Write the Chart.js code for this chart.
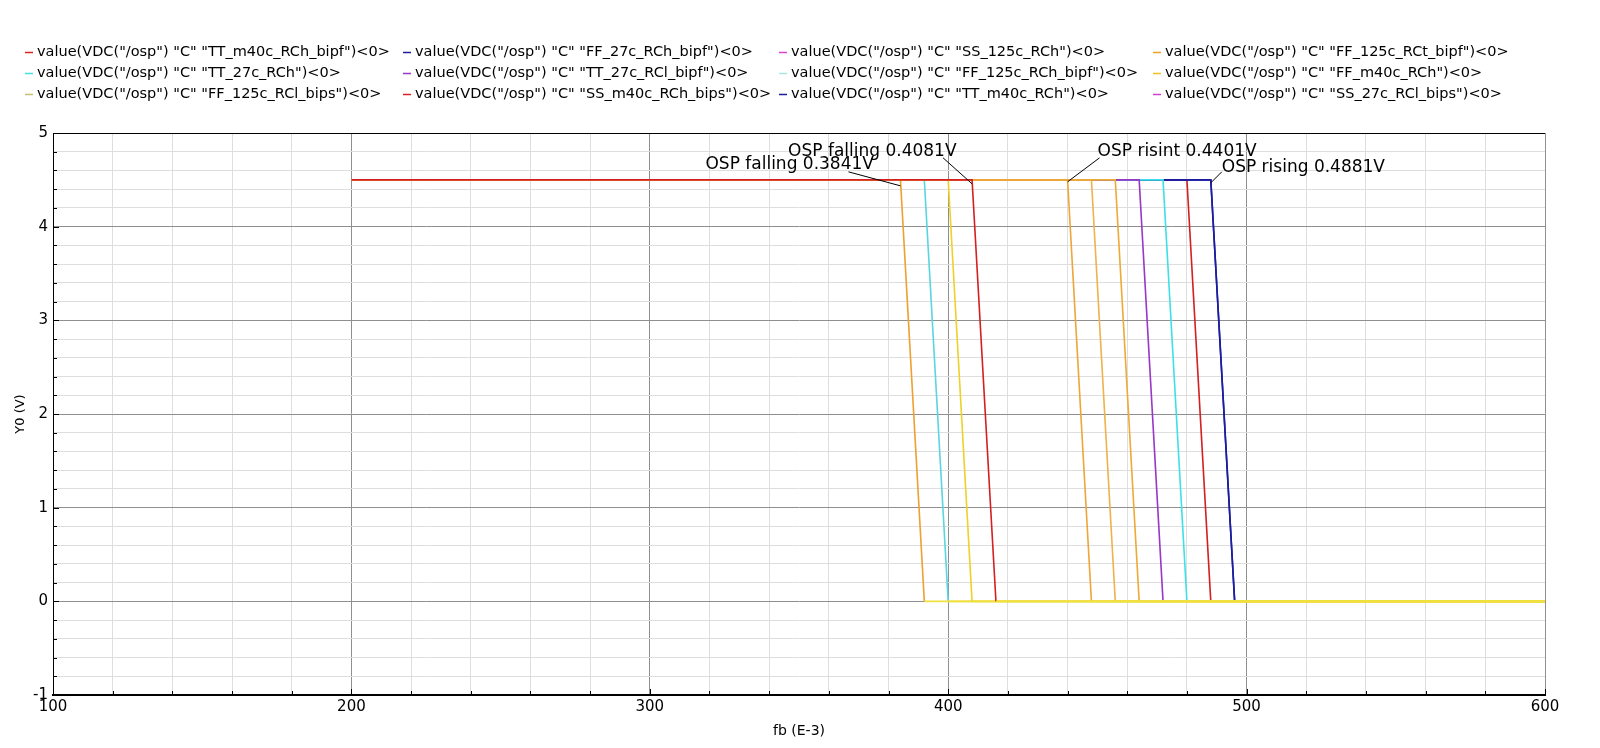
<!DOCTYPE html>
<html>
<head>
<meta charset="utf-8">
<script src="https://cdn.jsdelivr.net/npm/chart.js@4.4.0/dist/chart.umd.min.js"></script>
<style>
  html, body { margin: 0; padding: 0; background: #fff; }
  #wrap { width: 1600px; height: 748px; }
</style>
</head>
<body>
<div id="wrap"><canvas id="c" width="1600" height="748"></canvas></div>
<script>
// corner names, legend order (4 columns, row by row)
var corners = [
  'TT_m40c_RCh_bipf', 'FF_27c_RCh_bipf', 'SS_125c_RCh', 'FF_125c_RCt_bipf',
  'TT_27c_RCh', 'TT_27c_RCl_bipf', 'FF_125c_RCh_bipf', 'FF_m40c_RCh',
  'FF_125c_RCl_bips', 'SS_m40c_RCh_bips', 'TT_m40c_RCh', 'SS_27c_RCl_bips'
];
// fb (E-3) where each trace leaves the high level and where it reaches 0
var fallStart = [408, 488, 440, 384, 472, 464, 392, 400, 456, 480, 488, 448];
var fallEnd   = [416, 496, 448, 392, 480, 472, 400, 408, 464, 488, 496, 456];
var sweepFrom = 200, sweepTo = 600;
var highLevel = 4.5, lowLevel = 0;

var markers = [
  { text: 'OSP falling 0.3841V', x: 384, y: 4.5 },
  { text: 'OSP falling 0.4081V', x: 408, y: 4.5 },
  { text: 'OSP risint 0.4401V',  x: 440, y: 4.5 },
  { text: 'OSP rising 0.4881V',  x: 488, y: 4.5 }
];

// styling
var traceColors  = ['#d42020', '#1c1ca0', '#eea53a', '#eea030', '#3ee0e8', '#9838c8',
                    '#5ad6e0', '#ecd22a', '#eeaa36', '#d42020', '#1c1ca0', '#f0b24a'];
var legendColors = ['#e02020', '#1c1ca0', '#e040d0', '#f0a020', '#40e0e8', '#9838c8',
                    '#a8e8e0', '#f0c020', '#c8c070', '#e02020', '#1c1ca0', '#d040d0'];
var drawOrder    = [0, 5, 2, 7, 4, 3, 7, 1, 2, 6, 5, 2];
var lowColor = '#f0e040';
var labelOffsets = [
  { tx: -195, ty: -15, lx: -52, ly: -8, ex: 0, ey: 6 },
  { tx: -184, ty: -28, lx: -29, ly: -22, ex: 0, ey: 4 },
  { tx: 30,   ty: -28, lx: 32,  ly: -22, ex: 0, ey: 2 },
  { tx: 11,   ty: -12, lx: 11,  ly: -8,  ex: 0, ey: 3 }
];

var datasets = corners.map(function (name, i) {
  return {
    label: 'value(VDC("/osp") "C" "' + name + '")<0>',
    data: [
      { x: sweepFrom, y: highLevel },
      { x: fallStart[i], y: highLevel },
      { x: fallEnd[i], y: lowLevel },
      { x: sweepTo, y: lowLevel }
    ],
    borderColor: traceColors[i],
    backgroundColor: traceColors[i],
    borderWidth: 1.6,
    pointRadius: 0,
    tension: 0,
    order: drawOrder[i],
    segment: {
      borderColor: function (ctx) {
        return (ctx.p0.parsed.y === lowLevel && ctx.p1.parsed.y === lowLevel) ? lowColor : undefined;
      }
    }
  };
});

var majorGrid = '#8f8f8f', minorGrid = '#dedede';
var tickFont = { family: 'DejaVu Sans', size: 15 };

var decor = {
  id: 'decor',
  beforeDatasetsDraw: function (chart) {
    var c = chart.ctx, a = chart.chartArea;
    var xs = chart.scales.x, ys = chart.scales.y;
    c.save();
    c.strokeStyle = '#000';
    c.lineWidth = 1;
    c.beginPath();
    xs.ticks.forEach(function (t) {
      var px = Math.round(xs.getPixelForValue(t.value)) + 0.5;
      var len = t.value % 100 === 0 ? 6 : 4;
      c.moveTo(px, a.bottom); c.lineTo(px, a.bottom - len);
    });
    ys.ticks.forEach(function (t) {
      var py = Math.round(ys.getPixelForValue(t.value)) + 0.5;
      var major = Math.abs(t.value - Math.round(t.value)) < 1e-6;
      c.moveTo(a.left, py); c.lineTo(a.left + (major ? 6 : 4), py);
    });
    c.stroke();
    // frame top
    c.beginPath();
    c.moveTo(a.left, a.top + 0.5); c.lineTo(a.right, a.top + 0.5);
    c.stroke();
    c.restore();
  },
  afterDraw: function (chart) {
    var c = chart.ctx;
    var xs = chart.scales.x, ys = chart.scales.y;
    c.save();
    // legend grid
    var colX = [25, 403, 779, 1153], rowY = [52, 73, 94];
    c.font = '14.5px "DejaVu Sans"';
    c.textBaseline = 'middle';
    chart.data.datasets.forEach(function (ds, i) {
      var x = colX[i % 4], y = rowY[Math.floor(i / 4)];
      c.strokeStyle = legendColors[i];
      c.lineWidth = 1.5;
      c.beginPath(); c.moveTo(x, y + 0.5); c.lineTo(x + 8, y + 0.5); c.stroke();
      c.fillStyle = '#000';
      c.fillText(ds.label, x + 12, y);
    });
    // marker labels
    c.font = '17px "DejaVu Sans"';
    c.lineWidth = 1;
    c.strokeStyle = '#000';
    markers.forEach(function (m, i) {
      var o = labelOffsets[i];
      var px = xs.getPixelForValue(m.x), py = ys.getPixelForValue(m.y);
      c.beginPath();
      c.moveTo(px + o.lx, py + o.ly);
      c.lineTo(px + o.ex, py + o.ey);
      c.stroke();
      c.fillStyle = '#000';
      c.fillText(m.text, px + o.tx, py + o.ty);
    });
    c.restore();
  }
};

new Chart(document.getElementById('c'), {
  type: 'line',
  data: { datasets: datasets },
  options: {
    responsive: false,
    animation: false,
    layout: { padding: { top: 133, right: 55, left: 0, bottom: 0 } },
    plugins: { legend: { display: false }, tooltip: { enabled: false } },
    scales: {
      x: {
        type: 'linear', min: 100, max: 600,
        afterFit: function (s) { s.height = 53; },
        ticks: {
          stepSize: 20, autoSkip: false, maxRotation: 0, color: '#000', font: tickFont, padding: 3,
          callback: function (v) { return v % 100 === 0 ? String(v) : ''; }
        },
        grid: {
          drawTicks: false,
          color: function (ctx) { return ctx.tick && ctx.tick.value % 100 === 0 ? majorGrid : minorGrid; }
        },
        border: { color: '#000', width: 2 },
        title: { display: true, text: 'fb (E-3)', color: '#000', font: { family: 'DejaVu Sans', size: 14 }, padding: { top: 0, bottom: 8 } }
      },
      y: {
        min: -1, max: 5,
        afterFit: function (s) { s.width = 53; },
        ticks: {
          stepSize: 0.2, autoSkip: false, color: '#000', font: tickFont, padding: 5,
          callback: function (v) { return Math.abs(v - Math.round(v)) < 1e-6 ? String(Math.round(v)) : ''; }
        },
        grid: {
          drawTicks: false,
          color: function (ctx) {
            return ctx.tick && Math.abs(ctx.tick.value - Math.round(ctx.tick.value)) < 1e-6 ? majorGrid : minorGrid;
          }
        },
        border: { color: '#000', width: 1 },
        title: { display: true, text: 'Y0 (V)', color: '#000', font: { family: 'DejaVu Sans', size: 13 }, padding: { top: 13, bottom: 0 } }
      }
    }
  },
  plugins: [decor]
});
</script>
</body>
</html>
